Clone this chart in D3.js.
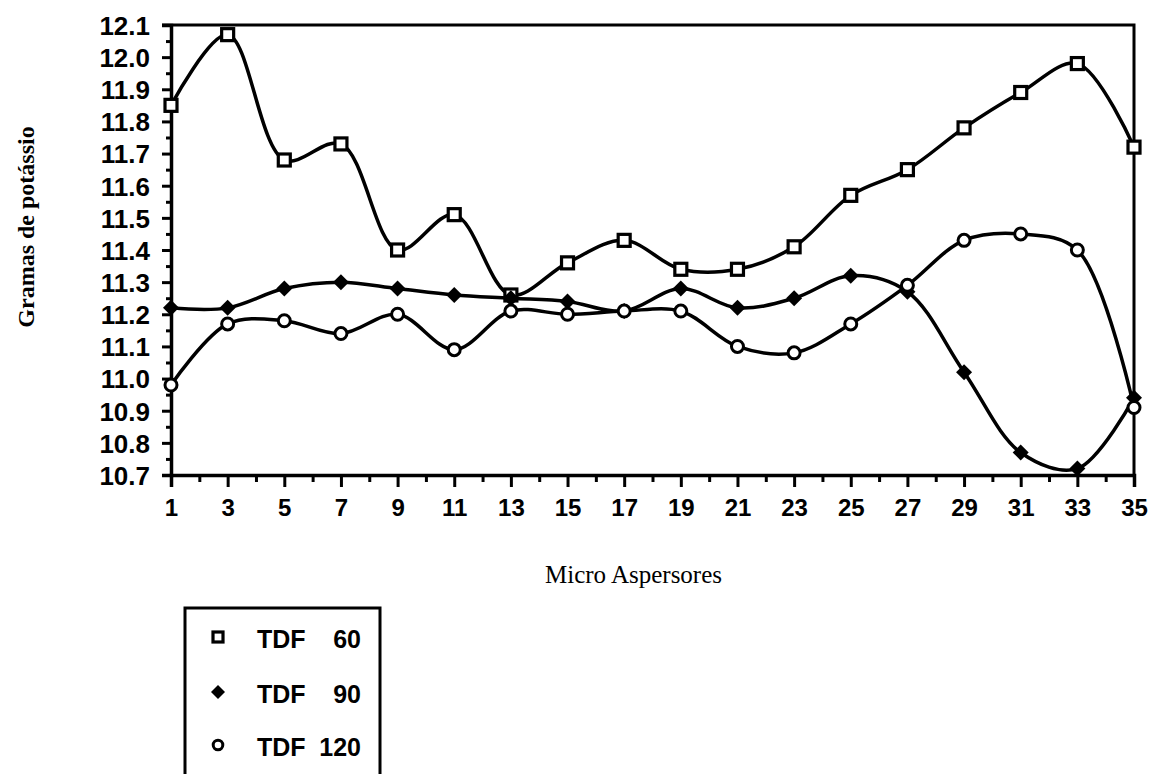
<!DOCTYPE html>
<html>
<head>
<meta charset="utf-8">
<script src="https://cdn.jsdelivr.net/npm/d3@7"></script>
<style>
  html, body { margin: 0; padding: 0; background: #fff; }
  svg { display: block; }
</style>
</head>
<body>
<svg id="chart" width="1151" height="774"></svg>
<script>
// ---- data ----
const categories = [1, 3, 5, 7, 9, 11, 13, 15, 17, 19, 21, 23, 25, 27, 29, 31, 33, 35];
const tdf60  = [11.85, 12.07, 11.68, 11.73, 11.40, 11.51, 11.26, 11.36, 11.43, 11.34, 11.34, 11.41, 11.57, 11.65, 11.78, 11.89, 11.98, 11.72];
const tdf90  = [11.22, 11.22, 11.28, 11.30, 11.28, 11.26, 11.25, 11.24, 11.21, 11.28, 11.22, 11.25, 11.32, 11.27, 11.02, 10.77, 10.72, 10.94];
const tdf120 = [10.98, 11.17, 11.18, 11.14, 11.20, 11.09, 11.21, 11.20, 11.21, 11.21, 11.10, 11.08, 11.17, 11.29, 11.43, 11.45, 11.40, 10.91];
const seriesNames = ["TDF", "TDF", "TDF"];
const seriesNums = ["60", "90", "120"];
const xMajorTicks = [1, 3, 5, 7, 9, 11, 13, 15, 17, 19, 21, 23, 25, 27, 29, 31, 33, 35];
const xMinorTicks = [2, 4, 6, 8, 10, 12, 14, 16, 18, 20, 22, 24, 26, 28, 30, 32, 34];
const yMajorTicks = [10.7, 10.8, 10.9, 11.0, 11.1, 11.2, 11.3, 11.4, 11.5, 11.6, 11.7, 11.8, 11.9, 12.0, 12.1];
const yMinorTicks = [10.75, 10.85, 10.95, 11.05, 11.15, 11.25, 11.35, 11.45, 11.55, 11.65, 11.75, 11.85, 11.95, 12.05];
const xTitle = "Micro Aspersores";
const yTitle = "Gramas de potássio";

// ---- layout ----
const svg = d3.select("#chart");
const L = 171, R = 1134, T = 25, B = 475;
const x = d3.scaleLinear().domain([1, 35]).range([L, R]);
const y = d3.scaleLinear().domain([10.7, 12.1]).range([B, T]);
const sans = "'Liberation Sans', Arial, Helvetica, sans-serif";
const serif = "'Liberation Serif', 'Times New Roman', serif";

// frame (top and right)
svg.append("path")
  .attr("d", `M${L - 9},${T} H${R} V${B}`)
  .attr("fill", "none").attr("stroke", "#000").attr("stroke-width", 3);

// y axis
const yMinor = svg.append("g").attr("transform", `translate(${L},0)`)
  .call(d3.axisLeft(y).tickValues(yMinorTicks).tickSize(5).tickFormat(""));
const yMajor = svg.append("g").attr("transform", `translate(${L},0)`)
  .call(d3.axisLeft(y).tickValues(yMajorTicks).tickSize(9).tickPadding(12).tickFormat(d3.format(".1f")));
// x axis
const xMinor = svg.append("g").attr("transform", `translate(0,${B})`)
  .call(d3.axisBottom(x).tickValues(xMinorTicks).tickSize(7).tickFormat(""));
const xMajor = svg.append("g").attr("transform", `translate(0,${B})`)
  .call(d3.axisBottom(x).tickValues(xMajorTicks).tickSize(12).tickPadding(12).tickFormat(d3.format("d")));

[yMinor, yMajor, xMinor, xMajor].forEach(g => {
  g.select(".domain").attr("stroke", "#000").attr("stroke-width", 3.5);
  g.selectAll(".tick line").attr("stroke", "#000").attr("stroke-width", 3);
  g.selectAll("text").attr("fill", "#000").attr("font-family", sans).attr("font-weight", "bold");
});
yMajor.selectAll("text").attr("font-size", 26).attr("dy", "0.36em");
xMajor.selectAll("text").attr("font-size", 24).attr("dy", "0.72em");
yMinor.select(".domain").remove();
xMinor.select(".domain").remove();

// axis titles
svg.append("text").attr("x", (L + R) / 2 - 19).attr("y", 583)
  .attr("text-anchor", "middle").attr("font-family", serif).attr("font-size", 25)
  .attr("fill", "#000").text(xTitle);
svg.append("text").attr("transform", "translate(34,227) rotate(-90)")
  .attr("text-anchor", "middle").attr("font-family", serif).attr("font-size", 24)
  .attr("font-weight", "bold").attr("fill", "#000").text(yTitle);

// lines
const allSeries = [tdf60, tdf90, tdf120];
const line = d3.line().x((d, i) => x(categories[i])).y(d => y(d)).curve(d3.curveCatmullRom.alpha(0.5));
allSeries.forEach(s => {
  svg.append("path").datum(s).attr("d", line)
    .attr("fill", "none").attr("stroke", "#000").attr("stroke-width", 3.5).attr("stroke-linejoin", "round");
});

// markers
function drawMarker(g, type, cx, cy, legend) {
  if (type === 0) {
    const s = legend ? 10 : 12;
    g.append("rect").attr("x", cx - s / 2).attr("y", cy - s / 2).attr("width", s).attr("height", s)
      .attr("fill", "#fff").attr("stroke", "#000").attr("stroke-width", 3.2);
  } else if (type === 1) {
    const r = legend ? 7 : 8;
    g.append("path").attr("d", `M${cx},${cy - r} L${cx + r},${cy} L${cx},${cy + r} L${cx - r},${cy} Z`)
      .attr("fill", "#000");
  } else {
    g.append("circle").attr("cx", cx).attr("cy", cy).attr("r", legend ? 4.8 : 6)
      .attr("fill", "#fff").attr("stroke", "#000").attr("stroke-width", 3);
  }
}
const mg = svg.append("g");
allSeries.forEach((s, k) => {
  s.forEach((v, i) => drawMarker(mg, k, x(categories[i]), y(v), false));
});

// legend
const lg = svg.append("g");
lg.append("rect").attr("x", 185).attr("y", 608).attr("width", 195).attr("height", 200)
  .attr("fill", "#fff").attr("stroke", "#000").attr("stroke-width", 3);
const rowY = [637, 692, 745];
seriesNums.forEach((n, k) => {
  drawMarker(lg, k, 218, rowY[k], true);
  lg.append("text").attr("x", 257).attr("y", rowY[k] + 11)
    .attr("font-family", sans).attr("font-weight", "bold").attr("font-size", 25).attr("fill", "#000")
    .text(seriesNames[k]);
  lg.append("text").attr("x", 361).attr("y", rowY[k] + 11).attr("text-anchor", "end")
    .attr("font-family", sans).attr("font-weight", "bold").attr("font-size", 25).attr("fill", "#000")
    .text(n);
});
</script>
</body>
</html>
